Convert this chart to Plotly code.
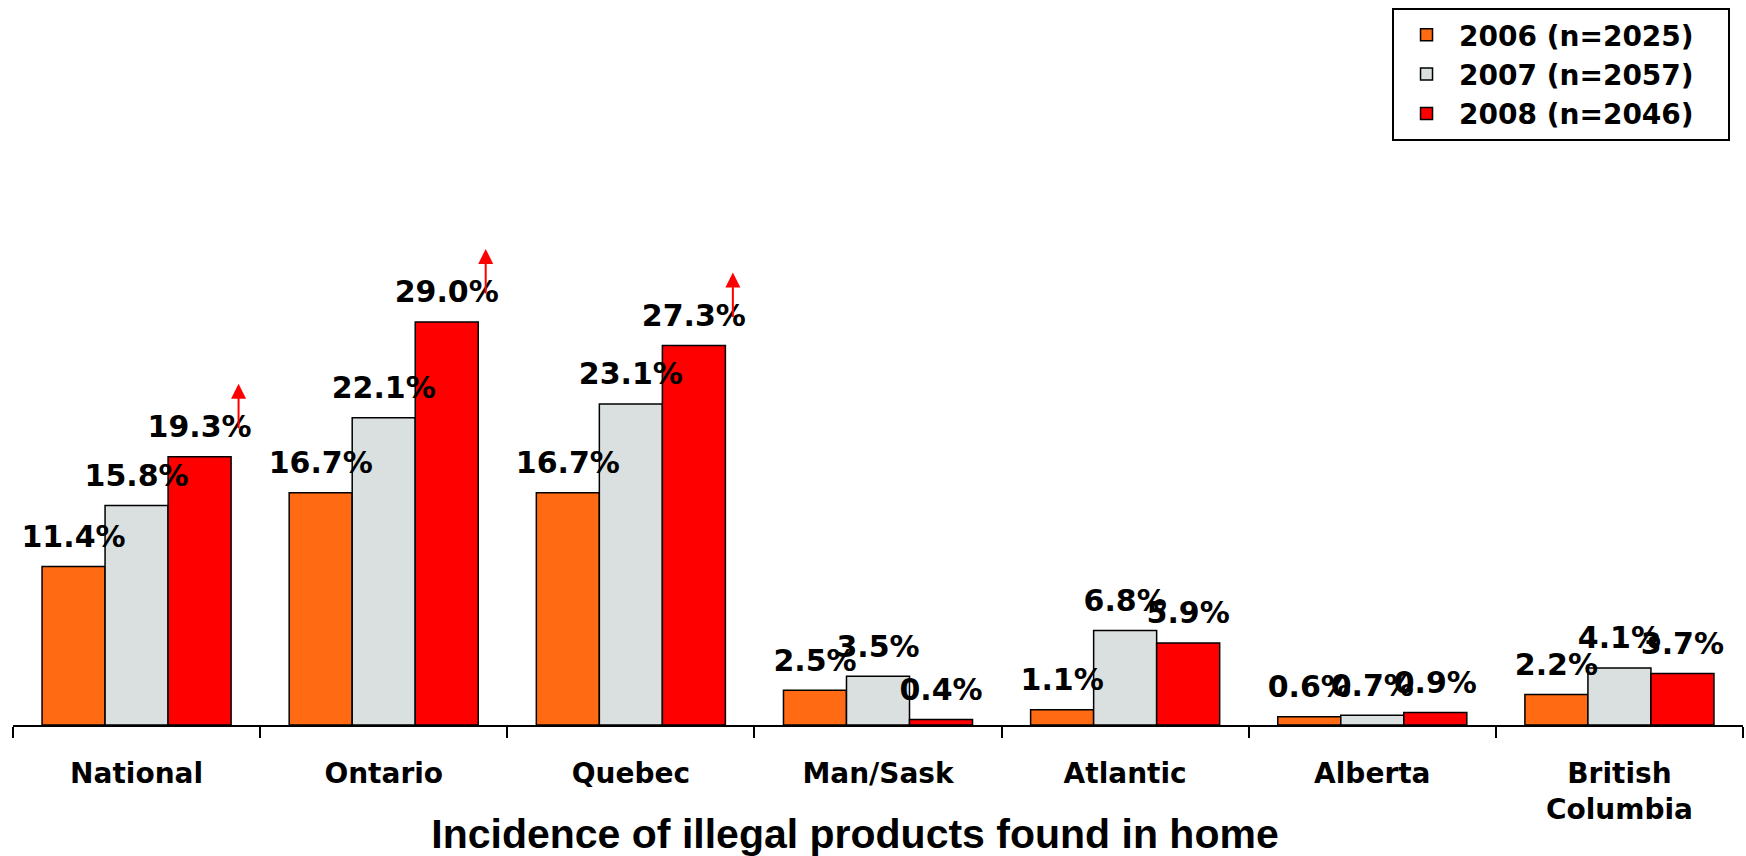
import plotly.graph_objects as go

# regions and survey years
regions = ["National", "Ontario", "Quebec", "Man/Sask", "Atlantic", "Alberta", "British<br>Columbia"]
series_names = ["2006 (n=2025)", "2007 (n=2057)", "2008 (n=2046)"]

# incidence of illegal products found in home (%)
pct_2006 = [11.4, 16.7, 16.7, 2.5, 1.1, 0.6, 2.2]
pct_2007 = [15.8, 22.1, 23.1, 3.5, 6.8, 0.7, 4.1]
pct_2008 = [19.3, 29.0, 27.3, 0.4, 5.9, 0.9, 3.7]

# regions with a significant rise in 2008 (red arrows)
rising = ["National", "Ontario", "Quebec"]

colors = ["#FF6A13", "#D9E0DF", "#FF0000"]
groups = ["g06", "g07", "g08"]
all_vals = [pct_2006, pct_2007, pct_2008]

fig = go.Figure()
for name, vals, col, g in zip(series_names, all_vals, colors, groups):
    fig.add_trace(go.Bar(
        x=regions, y=vals, name=name + "\u00a0" * 3, offsetgroup=g,  # nbsp = right padding in legend box
        marker=dict(color=col, line=dict(color="black", width=1.5)),
    ))

# value labels drawn on top of all bars (as in the original)
for vals, g in zip(all_vals, groups):
    fig.add_trace(go.Scatter(
        x=regions, y=vals, offsetgroup=g, mode="markers+text",
        marker=dict(size=18, opacity=0),
        text=["%.1f%%" % v for v in vals], textposition="top center",
        textfont=dict(family="DejaVu Sans", size=30, color="black", weight="bold"),
        showlegend=False, hoverinfo="skip", cliponaxis=False,
    ))

# arrows next to the 2008 labels
for r in rising:
    v = pct_2008[regions.index(r)]
    fig.add_annotation(
        x=r, y=v, xref="x", yref="y", text="",
        showarrow=True, arrowhead=2, arrowsize=1.5, arrowwidth=2,
        arrowcolor="red", ax=0, ay=46, xshift=102, yshift=73,
    )

fig.update_layout(
    width=1746, height=856,
    paper_bgcolor="white", plot_bgcolor="white",
    barmode="group", bargap=0.235, bargroupgap=0,
    scattermode="group", scattergap=0.235,
    margin=dict(l=13, r=3, t=169, b=131),
    showlegend=True,
    legend=dict(
        x=0.9925, y=1.2896, xanchor="right", yanchor="top",
        bordercolor="black", borderwidth=2, bgcolor="white",
        font=dict(family="DejaVu Sans", size=28, color="black", weight="bold"),
        itemwidth=55,
    ),
    title=dict(
        text="Incidence of illegal products found in home",
        x=855 / 1746, xref="container", xanchor="center",
        y=1 - 834 / 856, yref="container", yanchor="middle",
        font=dict(family="Liberation Sans", size=41, color="black", weight="bold"),
    ),
)

fig.update_xaxes(
    automargin=False,
    showline=True, linecolor="black", linewidth=2,
    ticks="outside", tickson="boundaries", ticklen=11, tickwidth=1.5, tickcolor="black",
    ticklabelstandoff=22,
    tickfont=dict(family="DejaVu Sans", size=28, color="black", weight="bold"),
    showgrid=False,
)
fig.update_yaxes(visible=False, automargin=False, range=[0, 40], showgrid=False)

fig.write_html("out.html", config={"displayModeBar": False},
               post_script="document.body.style.margin='0px';")
